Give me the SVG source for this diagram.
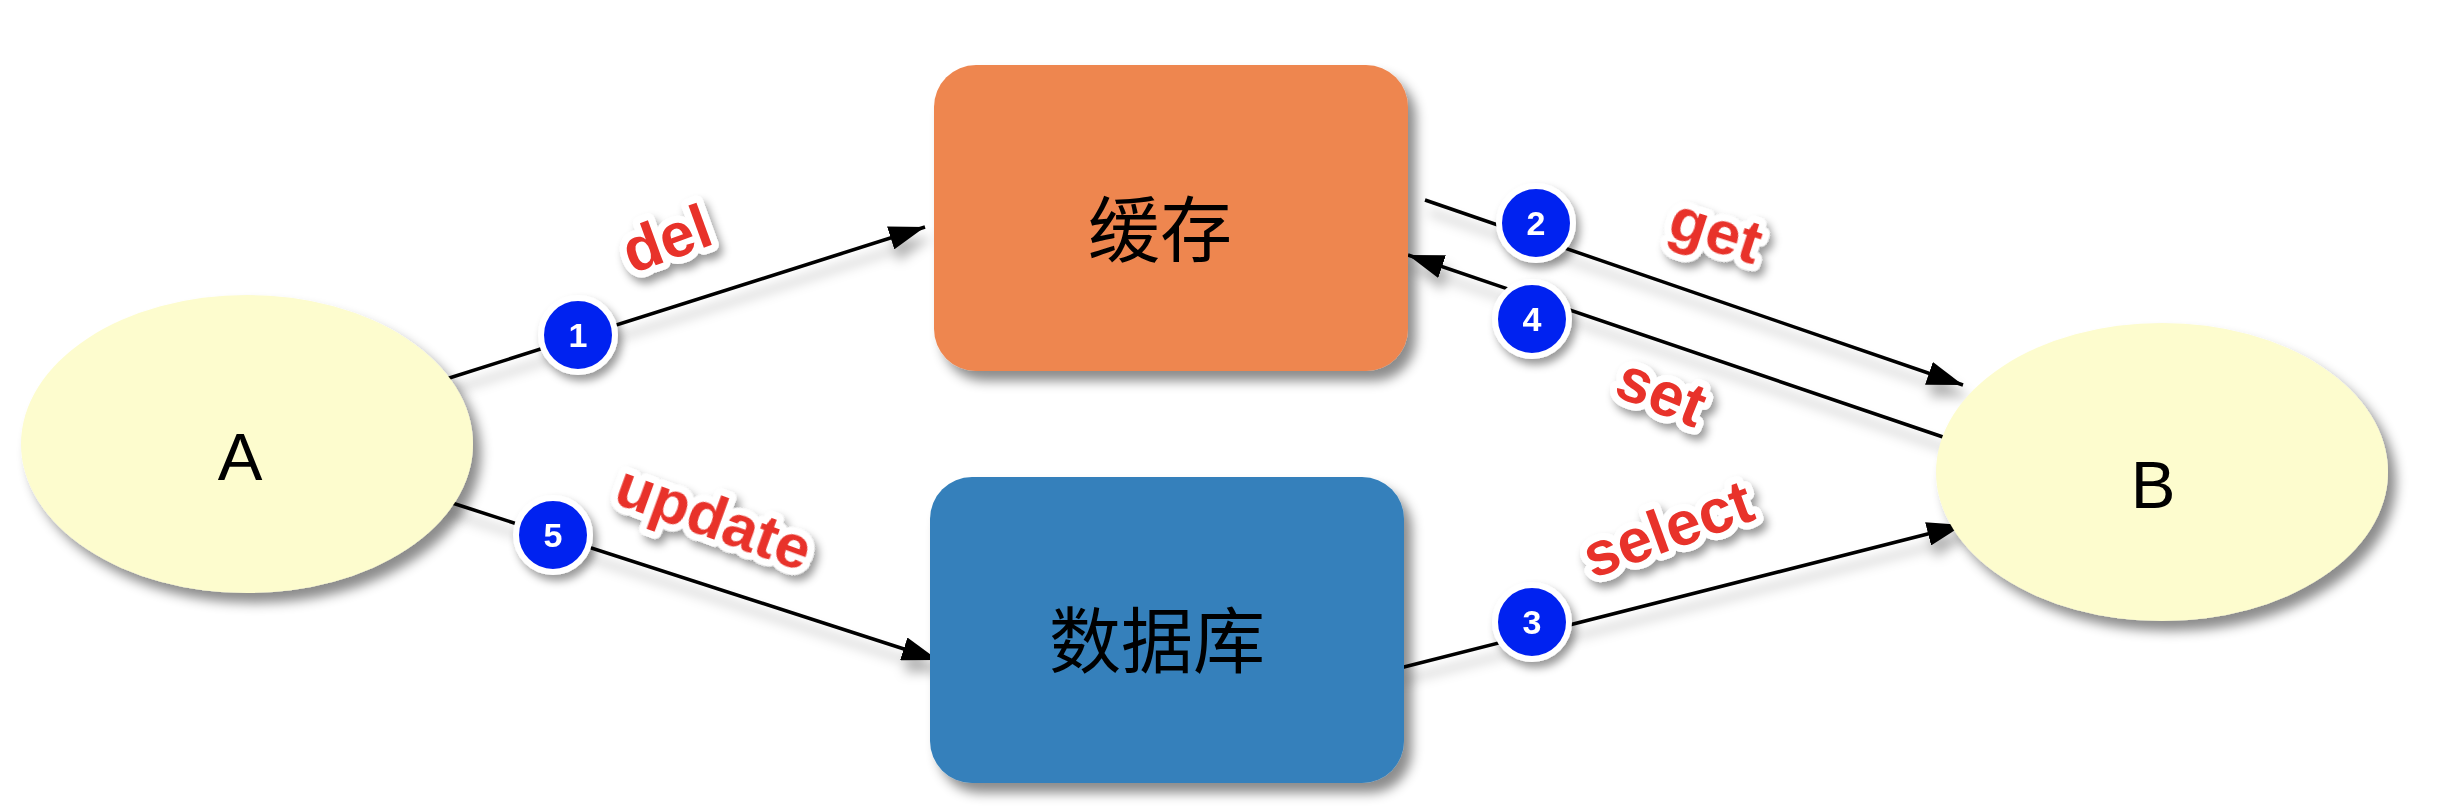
<svg xmlns="http://www.w3.org/2000/svg" width="2440" height="812" viewBox="0 0 2440 812">
  <defs>
    <filter id="shadow" x="-20%" y="-20%" width="140%" height="150%">
      <feDropShadow dx="8" dy="10" stdDeviation="6" flood-color="#000" flood-opacity="0.45"/>
    </filter>
    <filter id="lshadow" x="-10%" y="-50%" width="120%" height="200%">
      <feDropShadow dx="4" dy="12" stdDeviation="6" flood-color="#000" flood-opacity="0.3"/>
    </filter>
    <filter id="tshadow" x="-30%" y="-50%" width="160%" height="200%">
      <feDropShadow dx="4" dy="6" stdDeviation="4" flood-color="#000" flood-opacity="0.4"/>
    </filter>
    <marker id="arrow" markerUnits="userSpaceOnUse" markerWidth="36" markerHeight="24" refX="36" refY="12" orient="auto">
      <path d="M0,0 L36,12 L0,24 z" fill="#000"/>
    </marker>
  </defs>
  <style>
    .ell { fill: #FDFCCE; filter: url(#shadow); }
    .box { filter: url(#shadow); }
    .ntext { font-family: "Liberation Sans", Arial, sans-serif; font-size: 67px; fill: #000; text-anchor: middle; }
    .ctext { font-family: "Noto Sans CJK SC", "Noto Sans", sans-serif; font-size: 72px; fill: #000; text-anchor: middle; }
    .edge { stroke: #000; stroke-width: 3.5; fill: none; marker-end: url(#arrow); }
    .badge circle { fill: #0622F0; stroke: #fff; stroke-width: 6; }
    .badge text { font-family: "Liberation Sans", Arial, sans-serif; font-weight: bold; font-size: 34px; fill: #fff; text-anchor: middle; }
    .lbl { font-family: "Liberation Sans", Arial, sans-serif; font-weight: bold; font-size: 62px; fill: #E8322A; stroke: #fff; stroke-width: 14; stroke-linejoin: round; paint-order: stroke; text-anchor: middle; }
  </style>
  <rect width="2440" height="812" fill="#fff"/>

  <g id="connectors" filter="url(#lshadow)">
    <line class="edge" x1="443" y1="380" x2="925" y2="227"/>
    <line class="edge" x1="443" y1="500" x2="938" y2="660"/>
    <line class="edge" x1="1425" y1="200" x2="1963" y2="385"/>
    <line class="edge" x1="1943" y1="437" x2="1408" y2="255"/>
    <line class="edge" x1="1400" y1="668" x2="1963" y2="525"/>
  </g>

  <g id="node-A">
    <ellipse class="ell" cx="247" cy="444" rx="226" ry="149"/>
    <text class="ntext" x="240" y="480">A</text>
  </g>
  <g id="node-B">
    <ellipse class="ell" cx="2162" cy="472" rx="226" ry="149"/>
    <text class="ntext" x="2153" y="508">B</text>
  </g>
  <g id="node-cache">
    <rect class="box" x="934" y="65" width="474" height="306" rx="42" fill="#EE8650"/>
    <text class="ctext" x="1160" y="256">缓存</text>
  </g>
  <g id="node-db">
    <rect class="box" x="930" y="477" width="474" height="306" rx="42" fill="#3580BB"/>
    <text class="ctext" x="1157" y="667">数据库</text>
  </g>

  <g id="edge-labels">
    <g class="badge" filter="url(#tshadow)">
      <circle cx="578" cy="335" r="37"/><text x="578" y="347">1</text>
    </g>
    <g class="badge" filter="url(#tshadow)">
      <circle cx="1536" cy="223" r="37"/><text x="1536" y="235">2</text>
    </g>
    <g class="badge" filter="url(#tshadow)">
      <circle cx="1532" cy="622" r="37"/><text x="1532" y="634">3</text>
    </g>
    <g class="badge" filter="url(#tshadow)">
      <circle cx="1532" cy="319" r="37"/><text x="1532" y="331">4</text>
    </g>
    <g class="badge" filter="url(#tshadow)">
      <circle cx="553" cy="535" r="37"/><text x="553" y="547">5</text>
    </g>
    <g filter="url(#tshadow)">
      <text class="lbl" transform="translate(667,240) rotate(-20)" y="20">del</text>
      <text class="lbl" transform="translate(713,520) rotate(20)" y="18">update</text>
      <text class="lbl" transform="translate(1714,237) rotate(18)" y="14">get</text>
      <text class="lbl" transform="translate(1661,393) rotate(22)" y="20">set</text>
      <text class="lbl" transform="translate(1668,530) rotate(-20)" y="20">select</text>
    </g>
  </g>
</svg>
